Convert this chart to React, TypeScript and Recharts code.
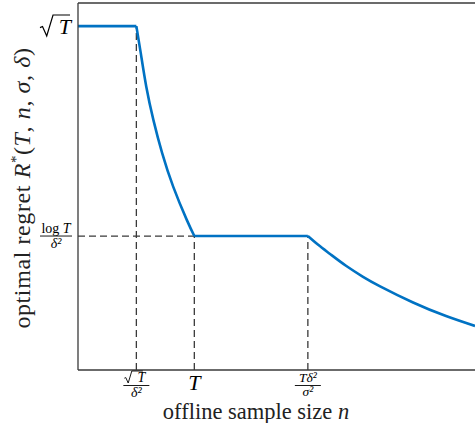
import React from 'react';
import {
  ComposedChart,
  Line,
  XAxis,
  YAxis,
  ReferenceLine,
  Label,
} from 'recharts';

// breakpoints on the n axis: sqrt(T)/delta^2, T, T delta^2 / sigma^2
const nBreaks = [1.47, 2.93, 5.79];
// regret levels: log T / delta^2, sqrt(T)
const regretLevels = [3.65, 9.37];

// steep drop between sqrt(T)/delta^2 and T
const dropN = [1.47, 1.58, 1.72, 1.9, 2.12, 2.4, 2.74, 2.93];
const dropR = [9.37, 8.64, 7.72, 6.81, 5.91, 4.99, 4.09, 3.65];

// tail after T delta^2 / sigma^2
const tailN = [5.79, 6.05, 6.35, 6.75, 7.18, 7.61, 8.44, 9.27, 10];
const tailR = [3.65, 3.41, 3.16, 2.84, 2.54, 2.28, 1.84, 1.47, 1.2];

const BLUE = '#0072C3';
const GRAY = '#3a3a3a';
const FONT = '"Liberation Serif", serif';

const head = [
  { n: 0, r: regretLevels[1] },
  { n: nBreaks[0], r: regretLevels[1] },
];
const drop = dropN.map((n, i) => ({ n, r: dropR[i] }));
const middle = [
  { n: nBreaks[1], r: regretLevels[0] },
  { n: nBreaks[2], r: regretLevels[0] },
];
const tail = tailN.map((n, i) => ({ n, r: tailR[i] }));

// radical sign drawn as a path, ending with the bar over the argument
const Radical = ({ x, top, bottom, width, sw = 1 }: any) => {
  const h = bottom - top;
  return (
    <path
      d={`M${x},${top + h * 0.6} L${x + h * 0.12},${top + h * 0.55} L${x + h * 0.32},${bottom} L${x + h * 0.62},${top} L${x + h * 0.62 + width},${top}`}
      fill="none"
      stroke="#000"
      strokeWidth={sw}
    />
  );
};

const YTick = (props: any) => {
  const { y, payload } = props;
  if (payload.value === regretLevels[1]) {
    return (
      <g>
        <Radical x={40} top={15} bottom={36} width={17} sw={1.2} />
        <text x={71} y={34} textAnchor="end" fontFamily={FONT} fontStyle="italic" fontSize={22}>
          T
        </text>
      </g>
    );
  }
  return (
    <g fontFamily={FONT} fontSize={14}>
      <text x={56} y={y - 3.5} textAnchor="middle">
        log <tspan fontStyle="italic">T</tspan>
      </text>
      <line x1={40} x2={72} y1={y} y2={y} stroke="#000" strokeWidth={0.9} />
      <text x={56} y={y + 12} textAnchor="middle" fontStyle="italic">
        δ²
      </text>
    </g>
  );
};

const XTick = (props: any) => {
  const { x, payload } = props;
  const v = payload.value;
  if (v === nBreaks[0]) {
    return (
      <g fontFamily={FONT} fontSize={14}>
        <Radical x={x - 12} top={371} bottom={383} width={11} sw={0.9} />
        <text x={x + 5} y={381.5} textAnchor="middle" fontStyle="italic">
          T
        </text>
        <line x1={x - 13} x2={x + 13} y1={385.5} y2={385.5} stroke="#000" strokeWidth={0.9} />
        <text x={x} y={396.5} textAnchor="middle" fontStyle="italic">
          δ²
        </text>
      </g>
    );
  }
  if (v === nBreaks[1]) {
    return (
      <text x={x} y={390} textAnchor="middle" fontFamily={FONT} fontStyle="italic" fontSize={22}>
        T
      </text>
    );
  }
  return (
    <g fontFamily={FONT} fontSize={13.5}>
      <text x={x} y={381.5} textAnchor="middle" fontStyle="italic">
        Tδ²
      </text>
      <line x1={x - 13} x2={x + 13} y1={385.5} y2={385.5} stroke="#000" strokeWidth={0.9} />
      <text x={x} y={396} textAnchor="middle" fontStyle="italic">
        σ²
      </text>
    </g>
  );
};

const XTitle = () => (
  <text x={256} y={419} textAnchor="middle" fontFamily={FONT} fontSize={22.5} fill="#222">
    offline sample size <tspan fontStyle="italic">n</tspan>
  </text>
);

const YTitle = () => (
  <text
    x={0}
    y={0}
    transform="translate(30,188) rotate(-90)"
    textAnchor="middle"
    fontFamily={FONT}
    fontSize={24}
    letterSpacing={0.6}
    fill="#222"
  >
    optimal regret <tspan fontStyle="italic">R</tspan>
    <tspan fontSize={15} dy={-9}>*</tspan>
    <tspan dy={9}>(</tspan>
    <tspan fontStyle="italic">T</tspan>, <tspan fontStyle="italic">n</tspan>,{' '}
    <tspan fontStyle="italic">σ</tspan>, <tspan fontStyle="italic">δ</tspan>)
  </text>
);

const dash = { stroke: GRAY, strokeDasharray: '7 4', strokeWidth: 1.3 };

export default function App() {
  return (
    <div style={{ position: 'absolute', left: 0, top: 0, background: '#fff' }}>
      <ComposedChart width={475} height={423} margin={{ top: 3, right: 0, bottom: 0, left: 0 }}>
        <XAxis
          type="number"
          dataKey="n"
          domain={[0, 10]}
          ticks={nBreaks}
          tick={<XTick />}
          tickLine={false}
          axisLine={{ stroke: GRAY, strokeWidth: 1.3 }}
          height={53}
          allowDuplicatedCategory={false}
        >
          <Label content={<XTitle />} />
        </XAxis>
        <YAxis
          type="number"
          dataKey="r"
          domain={[0, 10]}
          ticks={regretLevels}
          tick={<YTick />}
          tickLine={false}
          axisLine={{ stroke: GRAY, strokeWidth: 1.3 }}
          width={78}
        >
          <Label content={<YTitle />} />
        </YAxis>
        <ReferenceLine y={10} stroke={GRAY} strokeWidth={1.3} />
        <ReferenceLine segment={[{ x: nBreaks[0], y: 0 }, { x: nBreaks[0], y: regretLevels[1] }]} {...dash} />
        <ReferenceLine segment={[{ x: 0, y: regretLevels[0] }, { x: nBreaks[1], y: regretLevels[0] }]} {...dash} />
        <ReferenceLine segment={[{ x: nBreaks[1], y: 0 }, { x: nBreaks[1], y: regretLevels[0] }]} {...dash} />
        <ReferenceLine segment={[{ x: nBreaks[2], y: 0 }, { x: nBreaks[2], y: regretLevels[0] }]} {...dash} />
        <Line data={head} dataKey="r" type="linear" stroke={BLUE} strokeWidth={2.6} dot={false} isAnimationActive={false} />
        <Line data={drop} dataKey="r" type="natural" stroke={BLUE} strokeWidth={2.6} dot={false} isAnimationActive={false} />
        <Line data={middle} dataKey="r" type="linear" stroke={BLUE} strokeWidth={2.6} dot={false} isAnimationActive={false} />
        <Line data={tail} dataKey="r" type="natural" stroke={BLUE} strokeWidth={2.6} dot={false} isAnimationActive={false} />
      </ComposedChart>
    </div>
  );
}
